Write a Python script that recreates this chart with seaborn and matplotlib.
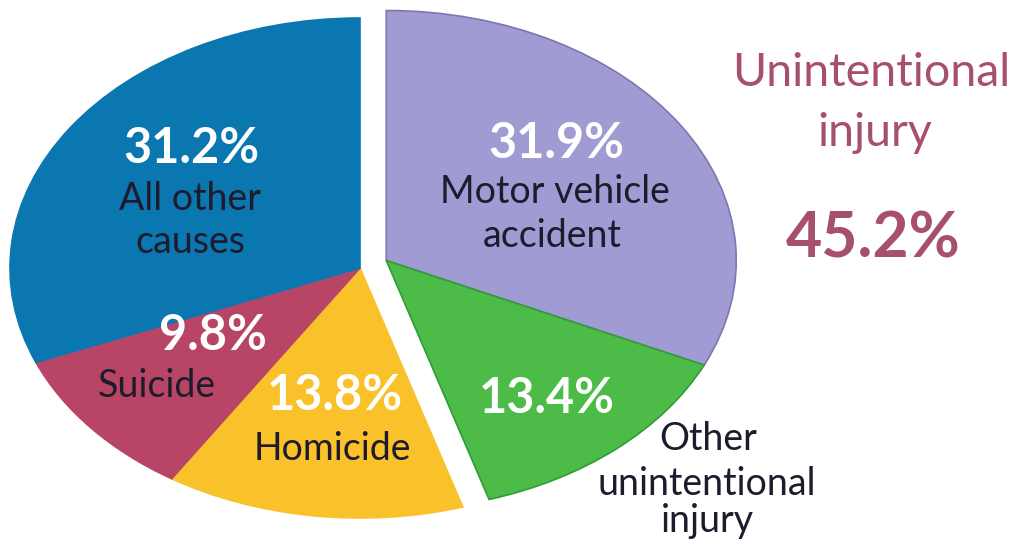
import matplotlib
matplotlib.use("Agg")
import matplotlib.pyplot as plt
import seaborn as sns

sns.set_theme(style="white")
plt.rcParams["font.family"] = ["Lato", "DejaVu Sans"]

# data, in the order the wedges are drawn (clockwise from 12 o'clock)
causes = ["Motor vehicle accident", "Other unintentional injury", "Homicide",
          "Suicide", "All other causes"]
shares = [31.9, 13.4, 13.8, 9.8, 31.2]
colors = ["#a09bd2", "#4cbb47", "#f9c22b", "#b84566", "#0b77b1"]
edges = ["#7d76b0", "#2f9c37", "#f9c22b", "#b84566", "#0b77b1"]
group_label = "Unintentional\ninjury"
group_share = 45.2

W, H = 1016, 548
fig = plt.figure(figsize=(W / 100, H / 100), dpi=100)
ax = fig.add_axes([0, 0, 1, 1])

# pie centre / radii in pixels, used to stretch the pie into an ellipse
cx, cy, rx, ry = 360, 268, 350, 250

wedges, _ = ax.pie(shares, colors=sns.color_palette(colors), startangle=90,
                   counterclock=False, radius=1.0,
                   wedgeprops=dict(linewidth=1.2))
ax.set_aspect("auto")
ax.set_xlim(-cx / rx, (W - cx) / rx)
ax.set_ylim(-(H - cy) / ry, cy / ry)
ax.axis("off")

# pull the unintentional-injury pair out as one block
for w, ec in zip(wedges, edges):
    w.set_edgecolor(ec)
for w in wedges[:2]:
    w.set_center((0.075, 0.03))


def put(x, y, s, **kw):
    fig.text(x / W, 1 - y / H, s, ha="center", va="baseline", **kw)


dark = "#1d1b2c"
pct = dict(color="white", fontsize=35, fontweight="bold")
lab = dict(color=dark, fontsize=27)

# all other causes
put(191, 163, f"{shares[4]}%", **pct)
put(190, 210, "All other", **lab)
put(190, 253, "causes", **lab)
# suicide
put(213, 350, f"{shares[3]}%", **pct)
put(157, 397, "Suicide", **lab)
# homicide
put(335, 410, f"{shares[2]}%", **pct)
put(332, 460, "Homicide", **lab)
# motor vehicle
put(556, 158, f"{shares[0]}%", **pct)
put(555, 203, "Motor vehicle", **lab)
put(552, 247, "accident", **lab)
# other unintentional
put(547, 413, f"{shares[1]}%", **pct)
put(708, 450, "Other", **lab)
put(707, 495, "unintentional", **lab)
put(707, 532, "injury", **lab)

# group total
maroon = "#a64f6f"
put(871, 86, group_label.split("\n")[0], color=maroon, fontsize=33.5)
put(875, 146, group_label.split("\n")[1], color=maroon, fontsize=33.5)
put(873, 257, f"{group_share:.1f}%", color=maroon, fontsize=45, fontweight="bold")

fig.savefig("out.png", dpi=100, facecolor="white")
